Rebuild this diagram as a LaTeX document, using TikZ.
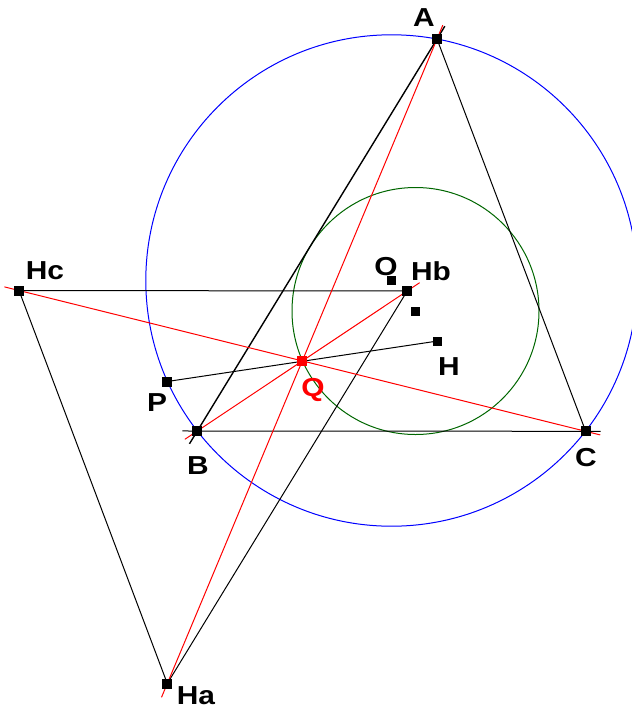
\documentclass[tikz,border=0pt]{standalone}
\usepackage{fontspec}
\setmainfont{Liberation Sans}
\begin{document}
\begin{tikzpicture}[x=1pt,y=-1pt,
  pt/.style={rectangle,fill=black,minimum size=10pt,inner sep=0pt},
  lbl/.style={font=\fontsize{26}{26}\selectfont\bfseries,inner sep=0pt,xscale=1.15,transform shape},
  thin/.style={line width=1pt,black},
  redl/.style={line width=1pt,red,shorten >=-15pt,shorten <=-15pt},
  ext/.style={shorten >=-15pt,shorten <=-15pt}]
\useasboundingbox (0,0) rectangle (632,710);
\coordinate (A) at (437,39);
\coordinate (B) at (197.3,431);
\coordinate (C) at (585.7,431.3);
\coordinate (Ha) at (167.3,683.5);
\coordinate (Hb) at (407.2,291);
\coordinate (Hc) at (19,290.5);
\coordinate (O) at (391.5,280.5);
\coordinate (N) at (415.5,311);
\coordinate (H) at (437.7,341);
\coordinate (P) at (167.3,381.5);
\coordinate (Q) at (301.5,361);
% circles
\draw[blue,line width=1pt] (O) circle[radius=245.7pt];
\draw[green!40!black,line width=1pt] (N) circle[radius=123.5pt];
% black lines
\draw[thin,ext] (B) -- (C);
\draw[line width=1.4pt,black,ext] (B) -- (A);
\draw[thin] (A) -- (C);
\draw[thin] (Hc) -- (Hb);
\draw[thin] (Hc) -- (Ha);
\draw[thin] (Hb) -- (Ha);
\draw[thin] (P) -- (H);
% red lines
\draw[redl] (A) -- (Ha);
\draw[redl] (Hc) -- (C);
\draw[redl] (B) -- (Hb);
% points
\node[pt] (nA) at (A) {};
\node[pt] (nB) at (B) {};
\node[pt] (nC) at (C) {};
\node[pt] (nHa) at (Ha) {};
\node[pt] (nHb) at (Hb) {};
\node[pt] (nHc) at (Hc) {};
\node[pt,minimum size=9pt] (nO) at (O) {};
\node[pt,minimum size=9pt] (nN) at (N) {};
\node[pt,minimum size=9pt] (nH) at (H) {};
\node[pt] (nP) at (P) {};
\node[pt,fill=red] (nQ) at (Q) {};
% labels
\node[lbl] (tA) at (424,18) {A};
\node[lbl] (tB) at (198,466) {B};
\node[lbl] (tC) at (586,458) {C};
\node[lbl] (tHa) at (196,696) {Ha};
\node[lbl] (tHb) at (431,271) {Hb};
\node[lbl] (tHc) at (45,271) {Hc};
\node[lbl] (tO) at (386,266.5) {O};
\node[lbl] (tH) at (449,367) {H};
\node[lbl] (tP) at (157,403) {P};
\node[lbl,red] (tQ) at (313,390) {Q};
\end{tikzpicture}
\end{document}
